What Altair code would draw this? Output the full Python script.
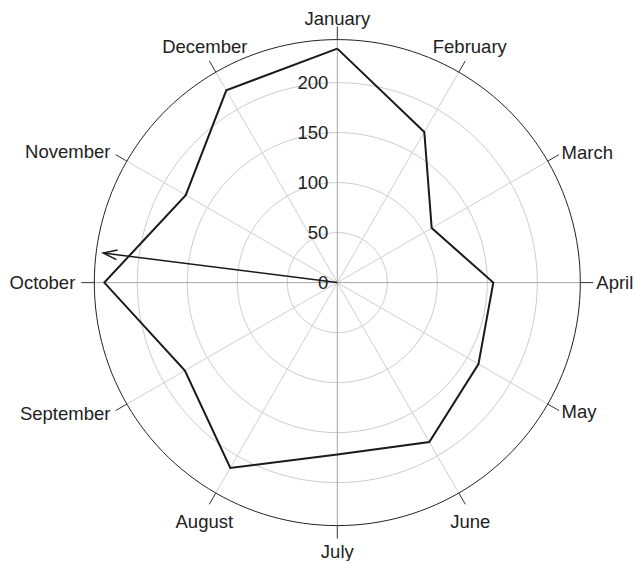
import altair as alt
import pandas as pd
import numpy as np

months = ["January", "February", "March", "April", "May", "June",
          "July", "August", "September", "October", "November", "December"]
values = [234, 174, 109, 156, 163, 184, 172, 214, 176, 233, 175, 222]
ring_values = [50, 100, 150, 200]
ring_labels = [0, 50, 100, 150, 200]
r_max = 243
arrow_mag = 236
arrow_dir = 277.2  # degrees clockwise from January axis

W, H = 626, 553
CX, CY = 329.3, 274.6
xs = alt.Scale(domain=[-CX, W - CX], nice=False, zero=False)
ys = alt.Scale(domain=[CY - H, CY], nice=False, zero=False)
FONT = "Liberation Sans"
FS = 18.5

def X(f):
    return alt.X(f, type="quantitative", scale=xs, axis=None)

def Y(f):
    return alt.Y(f, type="quantitative", scale=ys, axis=None)

# circles (grid rings + outer frame)
rows = []
for r in ring_values + [r_max]:
    for k, a in enumerate(np.arange(0, 361, 2)):
        rows.append({"r": r, "k": k, "a": float(a), "outer": r == r_max})
circ = pd.DataFrame(rows)

ring_base = alt.Chart(circ).transform_calculate(
    x="datum.r*sin(datum.a*PI/180)", y="datum.r*cos(datum.a*PI/180)"
)
rings = ring_base.transform_filter("!datum.outer").mark_line(
    color="#cccccc", strokeWidth=1
).encode(x=X("x"), y=Y("y"), detail="r:N", order="k:Q")
outer = ring_base.transform_filter("datum.outer").mark_line(
    color="#222222", strokeWidth=1
).encode(x=X("x"), y=Y("y"), detail="r:N", order="k:Q")

spk = pd.DataFrame({"month": months, "i": list(range(12))})
spk_base = alt.Chart(spk).transform_calculate(
    a="datum.i*PI/6",
    major="datum.i % 3 == 0",
    grp="abs(sin(datum.a))>0.6 ? (sin(datum.a)>0 ? 'L' : 'R') : (cos(datum.a)>0 ? 'T' : 'B')",
).transform_calculate(
    lr="datum.grp == 'T' ? (abs(sin(datum.a)) > 0.1 ? 265 : 258) : "
       "(datum.grp == 'B' ? (abs(sin(datum.a)) > 0.1 ? 266 : 260) : (datum.grp == 'L' ? 259 : 262))",
    x0="0", y0="0",
    x1=f"{r_max}*sin(datum.a)", y1=f"{r_max}*cos(datum.a)",
    t0=f"{r_max}*sin(datum.a)", u0=f"{r_max}*cos(datum.a)",
    t1=f"{r_max + 13}*sin(datum.a)", u1=f"{r_max + 13}*cos(datum.a)",
).transform_calculate(
    lx="datum.lr*sin(datum.a)", ly="datum.lr*cos(datum.a)",
)
spokes_minor = spk_base.transform_filter("!datum.major").mark_rule(
    color="#cfcfcf", strokeWidth=1
).encode(x=X("x0"), y=Y("y0"), x2="x1:Q", y2="y1:Q")
spokes_major = spk_base.transform_filter("datum.major").mark_rule(
    color="#a6a6a6", strokeWidth=1
).encode(x=X("x0"), y=Y("y0"), x2="x1:Q", y2="y1:Q")
ticks = spk_base.mark_rule(color="#333333", strokeWidth=1).encode(
    x=X("t0"), y=Y("u0"), x2="t1:Q", y2="u1:Q"
)

def lab(g, align, baseline):
    return spk_base.transform_filter(f"datum.grp == '{g}'").mark_text(
        align=align, baseline=baseline, font=FONT, fontSize=FS, color="#222222"
    ).encode(x=X("lx"), y=Y("ly"), text="month:N")

labels = [lab("T", "center", "alphabetic"), lab("B", "center", "top"),
          lab("L", "left", "middle"), lab("R", "right", "middle")]

rl = pd.DataFrame({"v": ring_labels, "t": [str(v) for v in ring_labels]})
rlabels = alt.Chart(rl).transform_calculate(x="-9").mark_text(
    align="right", baseline="middle", font=FONT, fontSize=FS, color="#222222"
).encode(x=X("x"), y=Y("v"), text="t:N")

poly = pd.DataFrame({"month": months + [months[0]], "v": values + [values[0]],
                     "k": list(range(13))})
polyline = alt.Chart(poly).transform_calculate(
    x="datum.v*sin(datum.k*PI/6)", y="datum.v*cos(datum.k*PI/6)"
).mark_line(color="#1a1a1a", strokeWidth=2, strokeJoin="miter").encode(
    x=X("x"), y=Y("y"), order="k:Q"
)

arr = pd.DataFrame({"mag": [arrow_mag], "dir": [arrow_dir]})
arr_base = alt.Chart(arr).transform_calculate(
    x0="0", y0="0",
    x1="datum.mag*sin(datum.dir*PI/180)", y1="datum.mag*cos(datum.dir*PI/180)",
)
arrow_line = arr_base.mark_rule(color="#1a1a1a", strokeWidth=1.5).encode(
    x=X("x0"), y=Y("y0"), x2="x1:Q", y2="y1:Q"
)
arrow_head = arr_base.mark_point(
    shape="M-0.35,1L0,0L0.35,1", filled=False, color="#1a1a1a",
    strokeWidth=1.5, size=784, opacity=1
).encode(x=X("x1"), y=Y("y1"), angle=alt.Angle("dir:Q", scale=None))

chart = alt.layer(
    rings, spokes_minor, spokes_major, outer, ticks, *labels, rlabels,
    polyline, arrow_line, arrow_head
).properties(
    width=W, height=H, autosize=alt.AutoSizeParams(type="none"), padding=0,
    background="white"
).configure_view(stroke=None)

chart.save("out.html", embed_options={"renderer": "svg", "actions": False})
